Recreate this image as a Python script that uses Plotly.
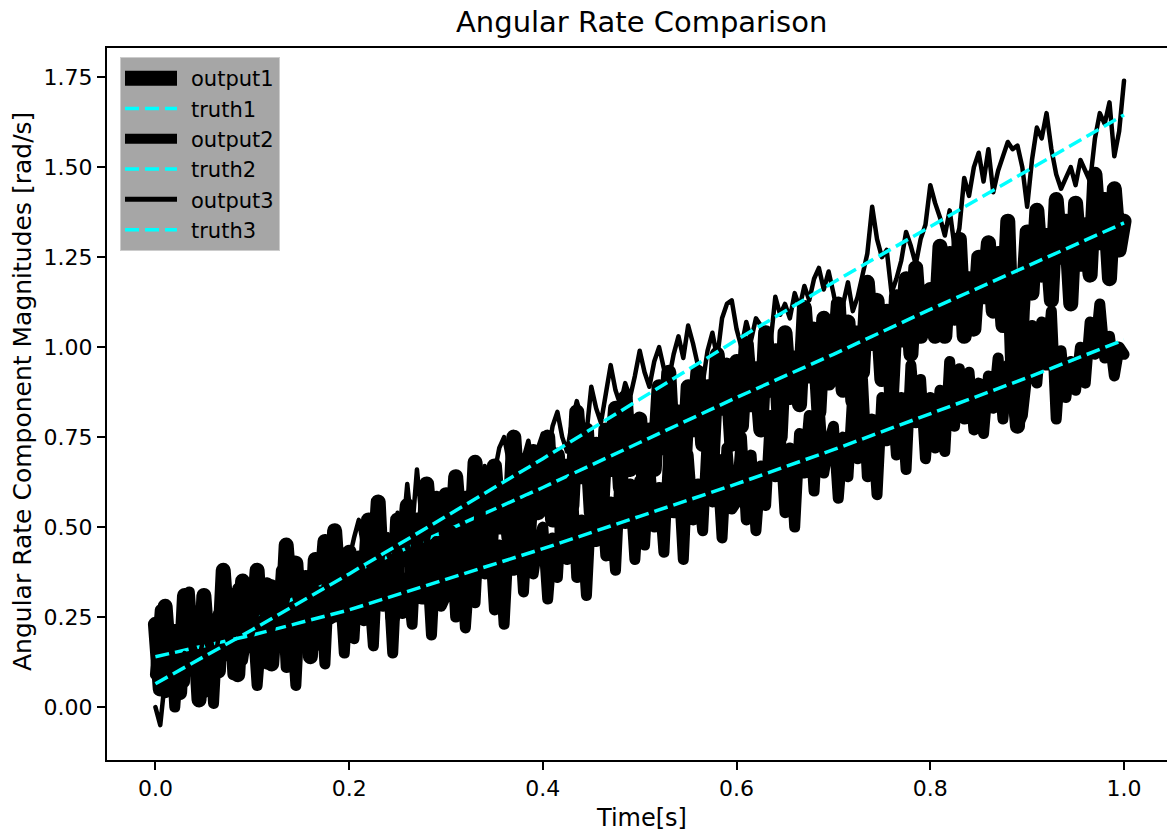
import plotly.graph_objects as go

# ---------------- data ----------------
time = [round(i * 0.005, 3) for i in range(201)]

# output1 : thick band around truth1 (middle)
output1 = [
    0.23, 0.05, 0.28, 0.10, 0.21, 0.04, 0.31, 0.15, 0.25, 0.02, 0.31, 0.13, 0.24, 0.10, 0.38, 0.19, 0.31, 0.09, 0.35, 0.17,
    0.20, 0.38, 0.15, 0.34, 0.12, 0.31, 0.19, 0.45, 0.28, 0.40, 0.18, 0.36, 0.14, 0.41, 0.29, 0.46, 0.25, 0.49, 0.30, 0.38,
    0.43, 0.24, 0.40, 0.30, 0.52, 0.35, 0.57, 0.30, 0.46, 0.25, 0.52, 0.41, 0.56, 0.37, 0.52, 0.33, 0.62, 0.46, 0.58, 0.37,
    0.59, 0.42, 0.64, 0.47, 0.58, 0.40, 0.68, 0.51, 0.62, 0.39, 0.67, 0.50, 0.60, 0.47, 0.75, 0.55, 0.68, 0.46, 0.71, 0.54,
    0.56, 0.75, 0.52, 0.70, 0.49, 0.67, 0.56, 0.82, 0.64, 0.77, 0.54, 0.73, 0.51, 0.77, 0.66, 0.83, 0.61, 0.86, 0.66, 0.75,
    0.80, 0.60, 0.77, 0.66, 0.89, 0.72, 0.93, 0.67, 0.82, 0.62, 0.89, 0.77, 0.93, 0.73, 0.89, 0.70, 0.98, 0.83, 0.95, 0.73,
    0.96, 0.78, 1.01, 0.84, 0.94, 0.77, 1.04, 0.88, 0.99, 0.75, 1.04, 0.86, 0.97, 0.84, 1.11, 0.92, 1.05, 0.82, 1.08, 0.90,
    0.93, 1.12, 0.88, 1.07, 0.85, 1.04, 0.93, 1.18, 1.01, 1.13, 0.91, 1.10, 0.87, 1.14, 1.02, 1.19, 0.98, 1.22, 1.03, 1.12,
    1.16, 1.03, 1.28, 1.03, 1.26, 1.08, 1.30, 1.03, 1.19, 1.05, 1.25, 1.14, 1.29, 1.10, 1.26, 1.06, 1.35, 0.95, 0.78, 1.10,
    1.32, 1.15, 1.38, 1.20, 1.31, 1.13, 1.41, 1.25, 1.35, 1.12, 1.40, 1.23, 1.34, 1.20, 1.48, 1.29, 1.41, 1.19, 1.44, 1.27, 1.35,
]

# output2 : thick band around truth2 (lower)
output2 = [
    0.09, 0.27, 0.04, 0.22, 0.00, 0.19, 0.07, 0.32, 0.14, 0.27, 0.04, 0.22, 0.01, 0.26, 0.14, 0.31, 0.09, 0.33, 0.13, 0.22,
    0.26, 0.06, 0.23, 0.12, 0.34, 0.17, 0.38, 0.11, 0.27, 0.06, 0.33, 0.21, 0.36, 0.17, 0.32, 0.12, 0.41, 0.25, 0.36, 0.15,
    0.37, 0.19, 0.42, 0.24, 0.35, 0.17, 0.45, 0.28, 0.38, 0.15, 0.43, 0.26, 0.36, 0.23, 0.50, 0.30, 0.43, 0.20, 0.46, 0.28,
    0.31, 0.49, 0.25, 0.44, 0.22, 0.41, 0.29, 0.55, 0.37, 0.49, 0.27, 0.45, 0.23, 0.49, 0.38, 0.54, 0.32, 0.57, 0.37, 0.46,
    0.50, 0.30, 0.47, 0.36, 0.59, 0.41, 0.63, 0.36, 0.52, 0.31, 0.58, 0.46, 0.61, 0.42, 0.57, 0.38, 0.66, 0.51, 0.62, 0.41,
    0.63, 0.45, 0.68, 0.50, 0.61, 0.43, 0.71, 0.54, 0.65, 0.41, 0.70, 0.52, 0.62, 0.49, 0.76, 0.57, 0.69, 0.47, 0.72, 0.55,
    0.57, 0.75, 0.52, 0.70, 0.49, 0.67, 0.56, 0.81, 0.64, 0.76, 0.54, 0.72, 0.50, 0.76, 0.65, 0.81, 0.60, 0.84, 0.65, 0.73,
    0.78, 0.58, 0.75, 0.64, 0.87, 0.69, 0.91, 0.64, 0.80, 0.59, 0.86, 0.74, 0.90, 0.70, 0.86, 0.66, 0.95, 0.79, 0.91, 0.69,
    0.86, 0.72, 0.88, 0.71, 0.96, 0.78, 0.94, 0.80, 0.93, 0.77, 0.90, 0.76, 0.92, 0.83, 0.97, 0.80, 0.95, 0.84, 0.78, 0.81,
    0.93, 1.06, 0.90, 1.07, 0.95, 1.10, 0.80, 0.99, 0.86, 0.96, 0.88, 1.00, 0.90, 1.07, 0.98, 1.12, 0.97, 1.03, 0.92, 1.00, 0.98,
]

# output3 : thin line around truth3 (top)
output3 = [
    0.00, -0.05, 0.08, 0.10, 0.05, 0.12, 0.15, 0.09, 0.17, 0.13, 0.20, 0.16, 0.11, 0.19, 0.23, 0.18, 0.22, 0.27, 0.21, 0.25,
    0.20, 0.26, 0.30, 0.24, 0.19, 0.27, 0.31, 0.28, 0.34, 0.29, 0.25, 0.33, 0.37, 0.32, 0.28, 0.36, 0.40, 0.34, 0.38, 0.43,
    0.41, 0.47, 0.52, 0.44, 0.39, 0.46, 0.50, 0.42, 0.48, 0.44, 0.54, 0.47, 0.62, 0.49, 0.66, 0.52, 0.45, 0.51, 0.56, 0.48,
    0.50, 0.57, 0.53, 0.60, 0.55, 0.62, 0.58, 0.54, 0.67, 0.61, 0.65, 0.72, 0.75, 0.68, 0.64, 0.71, 0.69, 0.74, 0.66, 0.72,
    0.76, 0.70, 0.78, 0.82, 0.75, 0.71, 0.79, 0.85, 0.80, 0.76, 0.89, 0.83, 0.79, 0.87, 0.95, 0.88, 0.84, 0.90, 0.86, 0.92,
    0.99, 0.93, 0.89, 0.96, 1.00, 0.94, 0.91, 0.98, 1.03, 0.97, 1.06, 1.01, 0.95, 0.90, 0.99, 1.04, 0.97, 1.08, 1.12, 1.13,
    1.05, 1.00, 1.07, 1.02, 1.08, 1.06, 0.96, 1.01, 1.14, 1.09, 1.12, 1.08, 1.15, 1.11, 1.17, 1.13, 1.19, 1.22, 1.16, 1.21,
    1.15, 1.08, 1.12, 1.18, 1.10, 1.14, 1.20, 1.26, 1.39, 1.30, 1.25, 1.27, 1.15, 1.19, 1.24, 1.32, 1.28, 1.23, 1.30, 1.34,
    1.45, 1.40, 1.36, 1.31, 1.38, 1.28, 1.33, 1.47, 1.42, 1.50, 1.54, 1.46, 1.55, 1.43, 1.49, 1.53, 1.57, 1.55, 1.56, 1.50,
    1.39, 1.52, 1.61, 1.58, 1.65, 1.55, 1.48, 1.44, 1.47, 1.50, 1.45, 1.52, 1.49, 1.46, 1.58, 1.65, 1.62, 1.68, 1.53, 1.60, 1.74,
]

truth_time = [0.0, 0.1, 0.2, 0.3, 0.4, 0.5, 0.6, 0.7, 0.8, 0.9, 1.0]
truth1 = [0.125, 0.25, 0.37, 0.49, 0.61, 0.735, 0.86, 0.98, 1.105, 1.225, 1.345]
truth2 = [0.14, 0.20, 0.27, 0.355, 0.44, 0.53, 0.62, 0.715, 0.815, 0.915, 1.02]
truth3 = [0.065, 0.215, 0.37, 0.53, 0.69, 0.855, 1.02, 1.18, 1.335, 1.49, 1.645]

x_ticks = [0.0, 0.2, 0.4, 0.6, 0.8, 1.0]
x_ticklabels = ["0.0", "0.2", "0.4", "0.6", "0.8", "1.0"]
y_ticks = [0.0, 0.25, 0.5, 0.75, 1.0, 1.25, 1.5, 1.75]
y_ticklabels = ["0.00", "0.25", "0.50", "0.75", "1.00", "1.25", "1.50", "1.75"]

assert len(output1) == len(time) and len(output2) == len(time) and len(output3) == len(time)

# ---------------- figure ----------------
FONT = "DejaVu Sans"
W, H = 1167, 838
L, R, T, B = 107, 0, 48, 78

fig = go.Figure()
dash = "14px,6px"
fig.add_trace(go.Scatter(x=time, y=output1, mode="lines", name="output1",
                         line=dict(color="black", width=15, simplify=False)))
fig.add_trace(go.Scatter(x=truth_time, y=truth1, mode="lines", name="truth1",
                         line=dict(color="#00ffff", width=3.5, dash=dash)))
fig.add_trace(go.Scatter(x=time, y=output2, mode="lines", name="output2",
                         line=dict(color="black", width=11, simplify=False)))
fig.add_trace(go.Scatter(x=truth_time, y=truth2, mode="lines", name="truth2",
                         line=dict(color="#00ffff", width=3.5, dash=dash)))
fig.add_trace(go.Scatter(x=time, y=output3, mode="lines", name="output3",
                         line=dict(color="black", width=4.5, simplify=False)))
fig.add_trace(go.Scatter(x=truth_time, y=truth3, mode="lines", name="truth3",
                         line=dict(color="#00ffff", width=3.5, dash=dash)))

plot_w = W - L - R
plot_h = H - T - B

fig.update_layout(
    width=W, height=H,
    margin=dict(l=L, r=R, t=T, b=B, pad=0),
    paper_bgcolor="white", plot_bgcolor="white",
    font=dict(family=FONT, size=22, color="black"),
    showlegend=True,
    legend=dict(
        x=(120 - L) / plot_w, y=1 - (57 - T) / plot_h,
        xanchor="left", yanchor="top",
        bgcolor="#a6a6a6", bordercolor="#cccccc", borderwidth=1,
        font=dict(family=FONT, size=21, color="black"),
        tracegroupgap=0, itemwidth=60,
    ),
    xaxis=dict(
        range=[-0.05, (W - 155) / 969.0], autorange=False,
        tickvals=x_ticks, ticktext=x_ticklabels,
        showline=True, linecolor="black", linewidth=2, mirror=True,
        ticks="outside", ticklen=8, tickwidth=2, tickcolor="black",
        showgrid=False, zeroline=False, automargin=False,
        tickfont=dict(family=FONT, size=22, color="black"),
    ),
    yaxis=dict(
        range=[-0.147, 1.831], autorange=False,
        tickvals=y_ticks, ticktext=y_ticklabels,
        showline=True, linecolor="black", linewidth=2, mirror=False,
        ticks="outside", ticklen=8, tickwidth=2, tickcolor="black",
        showgrid=False, zeroline=False, automargin=False,
        tickfont=dict(family=FONT, size=22, color="black"),
    ),
    annotations=[
        dict(text="Angular Rate Comparison", xref="paper", yref="paper",
             x=(641 - L) / plot_w, y=1 + (T - 22) / plot_h, xanchor="center", yanchor="middle",
             showarrow=False, font=dict(family=FONT, size=29, color="black")),
        dict(text="Time[s]", xref="paper", yref="paper",
             x=(641 - L) / plot_w, y=-(818 - (H - B)) / plot_h, xanchor="center", yanchor="middle",
             showarrow=False, font=dict(family=FONT, size=24, color="black")),
        dict(text="Angular Rate Component Magnitudes [rad/s]", xref="paper", yref="paper",
             x=-(L - 22) / plot_w, y=1 - (392 - T) / plot_h, xanchor="center", yanchor="middle",
             textangle=-90, showarrow=False, font=dict(family=FONT, size=25, color="black")),
    ],
)

post = """
var gd = document.getElementById('{plot_id}');
function fixStyle(){
  gd.querySelectorAll('.scatterlayer .js-line').forEach(function(p){
    var da = p.style.strokeDasharray;
    p.style.strokeLinejoin = 'round';
    if (!da || da === 'none' || da === '') { p.style.strokeLinecap = 'round'; }
  });
  var widths = [15, null, 10, null, 5, null];
  gd.querySelectorAll('.legend .traces').forEach(function(t, i){
    var p = t.querySelector('.js-line');
    if (p) {
      p.setAttribute('d', 'M4,0h52');
      if (widths[i]) { p.style.strokeWidth = widths[i] + 'px'; }
    }
  });
}
fixStyle();
"""

fig.write_html("out.html", post_script=post)
